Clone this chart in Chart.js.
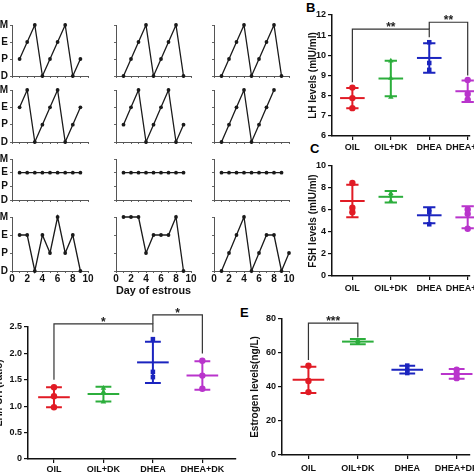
<!DOCTYPE html>
<html>
<head>
<meta charset="utf-8">
<script src="https://cdn.jsdelivr.net/npm/chart.js@4.4.0/dist/chart.umd.min.js"></script>
<style>
  html, body { margin: 0; padding: 0; background: #fff; }
  #fig { position: relative; width: 474px; height: 474px; overflow: hidden; }
  #fig canvas { position: absolute; left: 0; top: 0; }
  .tag { position: absolute; font: bold 13px 'Liberation Sans', Arial, sans-serif; color: #000; }
</style>
</head>
<body>
<div id="fig">
  <div class="tag" style="left:306px;top:0px">B</div>
  <div class="tag" style="left:310px;top:141px">C</div>
  <div class="tag" style="left:240px;top:305px">E</div>
</div>
<script>
// ---- estrous cycle panels (stage per day, starting at day 1) ----
const stages = ['D', 'P', 'E', 'M'];
const cycleR1C1 = ['P', 'E', 'M', 'D', 'P', 'E', 'M', 'D', 'P'];
const cycleR1C2 = ['D', 'P', 'E', 'M', 'D', 'P', 'E', 'M', 'D'];
const cycleR1C3 = ['D', 'P', 'E', 'M', 'D', 'P', 'E', 'M', 'D'];
const cycleR2C1 = ['E', 'M', 'D', 'P', 'E', 'M', 'D', 'P', 'E'];
const cycleR2C2 = ['P', 'E', 'M', 'D', 'P', 'E', 'M', 'D', 'P'];
const cycleR2C3 = ['D', 'P', 'E', 'M', 'D', 'P', 'E', 'M'];
const cycleR3C1 = ['E', 'E', 'E', 'E', 'E', 'E', 'E', 'E', 'E'];
const cycleR3C2 = ['E', 'E', 'E', 'E', 'E', 'E', 'E', 'E', 'E'];
const cycleR3C3 = ['E', 'E', 'E', 'E', 'E', 'E', 'E', 'E', 'E'];
const cycleR4C1 = ['E', 'E', 'D', 'E', 'P', 'M', 'P', 'E', 'D'];
const cycleR4C2 = ['M', 'M', 'M', 'P', 'E', 'E', 'E', 'M', 'D'];
const cycleR4C3 = ['D', 'P', 'E', 'M', 'D', 'P', 'E', 'E', 'D', 'P'];
const dayTicks = [0, 2, 4, 6, 8, 10];

// ---- group panels ----
const categories = ['OIL', 'OIL+DK', 'DHEA', 'DHEA+DK'];
const groupColors = ['#e11b25', '#2cae3c', '#1b24bf', '#b934cc'];
const groupShapes = ['circle', 'triangle', 'rect', 'circle'];

const lhPoints = [[8.40, 7.88, 7.38], [9.72, 8.87, 7.93], [10.65, 9.62, 9.28], [8.78, 8.08, 7.80]];
const lhMean = [7.88, 8.85, 9.87, 8.22];
const lhSd = [0.50, 0.88, 0.73, 0.53];

const fshPoints = [[8.45, 6.20, 5.80], [7.50, 7.30, 6.80], [6.05, 5.80, 4.70], [6.05, 5.65, 4.30]];
const fshMean = [6.82, 7.20, 5.52, 5.33];
const fshSd = [1.48, 0.52, 0.72, 1.00];

const ratioPoints = [[1.36, 1.19, 0.98], [1.34, 1.27, 1.08], [2.27, 1.65, 1.55], [1.86, 1.58, 1.33]];
const ratioMean = [1.17, 1.23, 1.83, 1.58];
const ratioSd = [0.19, 0.14, 0.39, 0.27];

const e2Points = [[52.5, 43.5, 37.0], [67.6, 66.8, 65.6], [52.6, 50.1, 48.2], [50.2, 47.7, 45.2]];
const e2Mean = [44.2, 66.7, 50.2, 47.7];
const e2Sd = [7.7, 1.5, 2.3, 2.9];

const lhSig = [{ from: 0, to: 2, top: 11.3, left: 8.67, right: 10.9, label: '**' },
               { from: 2, to: 3, top: 11.64, left: 11.3, right: 9.0, label: '**' }];
const ratioSig = [{ from: 0, to: 2, top: 2.56, left: 1.5, right: 2.4, label: '*' },
                  { from: 2, to: 3, top: 2.73, left: 2.56, right: 2.0, label: '*' }];
const e2Sig = [{ from: 0, to: 1, top: 77.6, left: 55.9, right: 69.4, label: '***' }];

const FONT = "'Liberation Sans', Arial, sans-serif";
const W = 474, H = 474;
const fig = document.getElementById('fig');

function addCanvas() {
  const c = document.createElement('canvas');
  c.width = W; c.height = H;
  fig.appendChild(c);
  return c;
}

// estrous layout: pixel spans of each column (day 0..10) and row (M..D)
const colSpan = [[12, 88], [116, 191], [214, 289]];
const rowSpan = [[25, 76], [90, 142], [159, 200], [217, 271]];
const cycles = [
  [cycleR1C1, cycleR1C2, cycleR1C3],
  [cycleR2C1, cycleR2C2, cycleR2C3],
  [cycleR3C1, cycleR3C2, cycleR3C3],
  [cycleR4C1, cycleR4C2, cycleR4C3]
];

function estrousChart(cycle, r, c) {
  const [x0, x1] = colSpan[c];
  const [yTop, yBot] = rowSpan[r];
  const bottomRow = r === 3;
  new Chart(addCanvas(), {
    type: 'scatter',
    data: {
      datasets: [{
        data: cycle.map((s, i) => ({ x: i + 1, y: stages.indexOf(s) })),
        showLine: true,
        borderColor: '#1a1a1a',
        borderWidth: 1.3,
        pointRadius: 1.9,
        pointBackgroundColor: '#1a1a1a',
        pointBorderWidth: 0,
        clip: false
      }]
    },
    options: {
      responsive: false,
      animation: false,
      events: [],
      layout: { padding: { left: 0, top: yTop, right: W - x1, bottom: 0 } },
      plugins: { legend: { display: false }, tooltip: { enabled: false } },
      scales: {
        x: {
          type: 'linear', min: 0, max: 10,
          afterFit: s => { s.height = H - yBot; s.paddingLeft = 0; s.paddingRight = 0; },
          ticks: {
            stepSize: 1, autoSkip: false, maxRotation: 0, padding: 0, color: '#111',
            font: { family: FONT, size: 10, weight: 'bold' },
            callback: v => (bottomRow && dayTicks.includes(v)) ? String(v) : ''
          },
          grid: { drawOnChartArea: false, tickLength: 2, color: '#666' },
          border: { color: '#555', width: 1 },
          title: {
            display: bottomRow && c === 1,
            text: 'Day of estrous',
            color: '#111',
            font: { family: FONT, size: 11, weight: 'bold' },
            padding: { top: 0, bottom: 176 }
          }
        },
        y: {
          type: 'linear', min: 0, max: 3,
          afterFit: s => { s.width = x0; s.paddingTop = 0; s.paddingBottom = 0; },
          ticks: {
            stepSize: 1, autoSkip: false, padding: 2, color: '#111',
            font: { family: FONT, size: 10, weight: 'bold' },
            callback: v => c === 0 ? stages[v] : ''
          },
          grid: { drawOnChartArea: false, tickLength: 2, color: '#666' },
          border: { color: '#555', width: 1 }
        }
      }
    }
  });
}

cycles.forEach((row, r) => row.forEach((cyc, c) => estrousChart(cyc, r, c)));

// ---- scatter dot plot with mean and SD ----
const MEAN_HALF = 0.32, CAP_HALF = 0.16;

function groupChart(p) {
  const datasets = [];
  p.sig.forEach(b => datasets.push({
    data: [{ x: b.from, y: b.left }, { x: b.from, y: b.top }, { x: b.to, y: b.top }, { x: b.to, y: b.right }],
    showLine: true, borderColor: '#333', borderWidth: 1.2, pointRadius: 0, clip: false
  }));
  categories.forEach((cat, i) => {
    const col = groupColors[i], m = p.mean[i], s = p.sd[i];
    datasets.push({
      data: [{ x: i - MEAN_HALF, y: m }, { x: i + MEAN_HALF, y: m }],
      showLine: true, borderColor: col, borderWidth: 2, pointRadius: 0, clip: false
    });
    datasets.push({
      data: [
        { x: i - CAP_HALF, y: m + s }, { x: i + CAP_HALF, y: m + s }, { x: i, y: null },
        { x: i, y: m + s }, { x: i, y: m - s }, { x: i, y: null },
        { x: i - CAP_HALF, y: m - s }, { x: i + CAP_HALF, y: m - s }
      ],
      showLine: true, spanGaps: false, borderColor: col, borderWidth: 2, pointRadius: 0, clip: false
    });
    datasets.push({
      data: p.points[i].map(v => ({ x: i, y: v })),
      pointStyle: groupShapes[i], pointRadius: 3.2,
      backgroundColor: col, borderColor: col, borderWidth: 0, clip: false
    });
  });

  const stars = {
    id: 'stars',
    afterDatasetsDraw(chart) {
      const { ctx, scales: { x, y } } = chart;
      ctx.save();
      ctx.font = 'bold 12px ' + FONT;
      ctx.fillStyle = '#222';
      ctx.textAlign = 'center';
      ctx.textBaseline = 'alphabetic';
      p.sig.forEach(b => ctx.fillText(b.label, x.getPixelForValue((b.from + b.to) / 2), y.getPixelForValue(b.top) + 2));
      ctx.restore();
    }
  };

  new Chart(addCanvas(), {
    type: 'scatter',
    data: { datasets },
    plugins: [stars],
    options: {
      responsive: false,
      animation: false,
      events: [],
      layout: { padding: { left: p.padLeft, top: p.top, right: W - p.right, bottom: 0 } },
      plugins: { legend: { display: false }, tooltip: { enabled: false } },
      scales: {
        x: {
          type: 'linear', min: p.xMin, max: p.xMax,
          afterFit: s => { s.height = H - p.bottom; s.paddingLeft = 0; s.paddingRight = 0; },
          afterBuildTicks: s => { s.ticks = categories.map((_, i) => ({ value: i })); },
          ticks: {
            autoSkip: false, maxRotation: 0, padding: p.xPad, color: '#111',
            font: { family: FONT, size: 9, weight: 'bold' },
            callback: v => categories[v]
          },
          grid: { drawOnChartArea: false, tickLength: 4, color: '#111', lineWidth: 1.2 },
          border: { color: '#111', width: 1.5 }
        },
        y: {
          type: 'linear', min: p.yMin, max: p.yMax,
          afterFit: s => { s.width = p.left - p.padLeft; s.paddingTop = 0; s.paddingBottom = 0; },
          ticks: {
            stepSize: p.yStep, autoSkip: false, padding: 2, color: '#111',
            font: { family: FONT, size: 9, weight: 'bold' },
            callback: p.fmt || (v => String(v))
          },
          grid: { drawOnChartArea: false, tickLength: 4, color: '#111', lineWidth: 1.2 },
          border: { color: '#111', width: 1.5 },
          title: {
            display: true, text: p.title, color: '#111',
            font: { family: FONT, size: 10, weight: 'bold' },
            padding: { top: p.titlePad || 0, bottom: 0 }
          }
        }
      }
    }
  });
}

// B: LH
groupChart({
  points: lhPoints, mean: lhMean, sd: lhSd, sig: lhSig,
  yMin: 6, yMax: 12, yStep: 1, title: 'LH levels (mIU/ml)',
  left: 332, right: 474, top: 15, bottom: 136, padLeft: 307, xPad: 2,
  xMin: -0.53, xMax: 3.06
});

// C: FSH
groupChart({
  points: fshPoints, mean: fshMean, sd: fshSd, sig: [],
  yMin: 0, yMax: 10, yStep: 2, title: 'FSH levels (mIU/ml)',
  left: 332, right: 474, top: 166, bottom: 276, padLeft: 307, xPad: 3,
  xMin: -0.53, xMax: 3.06
});

// D: LH/FSH ratio
groupChart({
  points: ratioPoints, mean: ratioMean, sd: ratioSd, sig: ratioSig,
  yMin: 0, yMax: 2.5, yStep: 0.5, title: 'LH/FSH (ratio)',
  left: 28, right: 236, top: 327, bottom: 459, padLeft: 0, titlePad: -7, xPad: 1,
  xMin: -0.525, xMax: 3.68,
  fmt: v => v === 0 ? '0' : v.toFixed(1)
});

// E: estrogen
groupChart({
  points: e2Points, mean: e2Mean, sd: e2Sd, sig: e2Sig,
  yMin: 0, yMax: 80, yStep: 20, title: 'Estrogen levels(ng/L)',
  left: 282, right: 474, top: 319, bottom: 455, padLeft: 249, xPad: 4,
  xMin: -0.535, xMax: 3.27
});
</script>
</body>
</html>
